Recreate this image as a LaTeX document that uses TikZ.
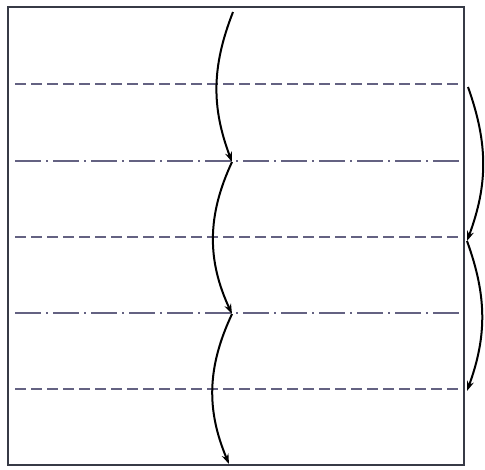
\documentclass[tikz,border=0pt]{standalone}
\usetikzlibrary{arrows.meta}
\definecolor{edge}{RGB}{55,58,70}
\definecolor{fold}{RGB}{100,98,130}
\begin{document}
\begin{tikzpicture}[x=1pt,y=-1pt,
  sheet/.style={draw=edge,line width=1.4pt},
  valley/.style={draw=fold,line width=1.1pt,dash pattern=on 11pt off 5pt},
  mountain/.style={draw=fold,line width=1.1pt,dash pattern=on 26pt off 5pt on 2pt off 5pt},
  move/.style={draw=black,line width=2pt,-{Stealth[length=10pt,width=7pt]}}]
\useasboundingbox[fill=white] (0,0) rectangle (485,469);
\draw[sheet] (8,7) rectangle (464,465);
% fold lines
\coordinate (l1a) at (15,84);  \coordinate (l1b) at (463,84);
\coordinate (l2a) at (15,161); \coordinate (l2b) at (463,161);
\coordinate (l3a) at (15,237); \coordinate (l3b) at (463,237);
\coordinate (l4a) at (15,313); \coordinate (l4b) at (463,313);
\coordinate (l5a) at (15,389); \coordinate (l5b) at (463,389);
\draw[valley] (l1a) -- (l1b);
\draw[mountain] (l2a) -- (l2b);
\draw[valley] (l3a) -- (l3b);
\draw[mountain] (l4a) -- (l4b);
\draw[valley] (l5a) -- (l5b);
% central arrows
\coordinate (c0) at (233,12);
\coordinate (c1) at (232,162);
\coordinate (c2) at (232,314);
\coordinate (c3) at (229,464);
\draw[move] (c0) to[bend right=21] (c1);
\draw[move] (c1) to[bend right=25] (c2);
\draw[move] (c2) to[bend right=24] (c3);
% right arrows
\coordinate (r0) at (468,87);
\coordinate (r1) at (467,241);
\coordinate (r2) at (467,391);
\draw[move] (r0) to[bend left=20] (r1);
\draw[move] (r1) to[bend left=20] (r2);
\end{tikzpicture}
\end{document}
